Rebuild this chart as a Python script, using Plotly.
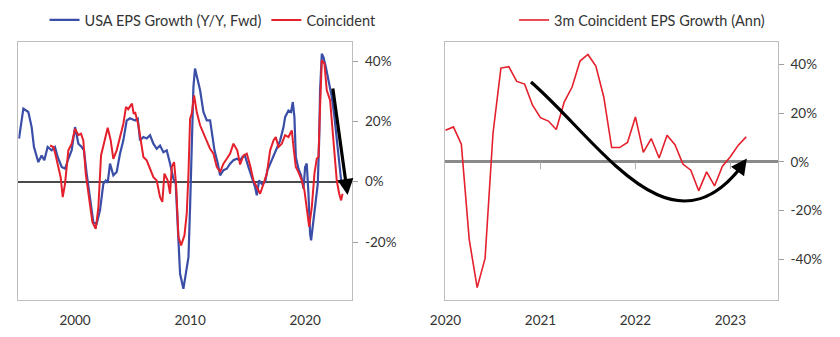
import plotly.graph_objects as go

# ---- Left panel: USA EPS growth (Y/Y, forward) vs coincident, decimal years ----
fwd_years = [
    1995.13, 1995.51, 1995.94, 1996.23, 1996.43, 1996.81, 1997.10, 1997.33,
    1997.62, 1997.97, 1998.26, 1998.49, 1998.84, 1999.13, 1999.42, 1999.71,
    2000.00, 2000.29, 2000.58, 2000.78, 2001.01, 2001.30, 2001.59, 2001.88,
    2002.17, 2002.46, 2002.67, 2002.84, 2003.04, 2003.33, 2003.62, 2003.91,
    2004.20, 2004.49, 2004.78, 2005.07, 2005.22, 2005.45, 2005.65, 2005.94,
    2006.23, 2006.52, 2006.81, 2007.10, 2007.39, 2007.68, 2007.97, 2008.26,
    2008.55, 2008.75, 2008.93, 2009.13, 2009.42, 2009.65, 2009.86, 2010.00,
    2010.14, 2010.29, 2010.43, 2010.67, 2010.87, 2011.16, 2011.45, 2011.74,
    2011.94, 2012.12, 2012.41, 2012.61, 2012.90, 2013.19, 2013.48, 2013.77,
    2014.06, 2014.35, 2014.55, 2014.78, 2015.07, 2015.36, 2015.65, 2015.80,
    2016.00, 2016.23, 2016.52, 2016.72, 2016.96, 2017.25, 2017.54, 2017.83,
    2018.12, 2018.26, 2018.55, 2018.78, 2018.93, 2019.07, 2019.19, 2019.42,
    2019.65, 2019.86, 2020.00, 2020.14, 2020.29, 2020.43, 2020.52, 2020.67,
    2020.87, 2021.10, 2021.22, 2021.30, 2021.45, 2021.59, 2021.80, 2022.03,
    2022.32, 2022.55, 2022.75, 2022.96, 2023.13,
]
fwd_values = [
    14.3, 24.2, 23.1, 18.1, 11.5, 6.5, 8.7, 7.1,
    11.5, 10.4, 11.5, 8.2, 4.9, 4.3, 7.6, 10.4,
    18.1, 12.6, 11.5, 10.4, 2.7, -6.2, -13.4, -13.9,
    -9.5, -0.7, 0.4, -0.4, 6.0, 2.1, 3.2, 9.3,
    13.7, 20.3, 21.0, 20.5, 20.3, 20.9, 13.7, 14.8,
    14.3, 15.4, 12.6, 10.9, 12.0, 9.8, 10.4, 6.0,
    1.0, -0.7, -15.0, -30.5, -35.5, -29.4, -25.0, -8.4,
    13.7, 31.4, 37.5, 33.6, 30.3, 23.1, 20.3, 20.3,
    14.8, 10.4, 6.0, 2.1, 3.8, 4.3, 6.0, 7.1,
    7.6, 7.1, 8.2, 8.5, 4.9, 1.5, -1.8, -4.5,
    0.4, -0.7, -0.1, 3.8, 6.0, 8.7, 11.5, 13.7,
    18.1, 21.4, 23.6, 23.1, 26.4, 21.4, 8.2, 4.3,
    2.1, -2.3, 4.9, 6.0, -4.0, -17.2, -19.4, -15.0,
    -8.4, -0.7, 13.7, 30.3, 42.4, 41.3, 38.0, 33.6,
    28.1, 21.4, 13.7, 6.0, 0.4,
]

coin_years = [
    1997.83, 1998.12, 1998.32, 1998.55, 1998.75, 1998.93, 1999.13, 1999.42,
    1999.71, 2000.00, 2000.29, 2000.52, 2000.72, 2000.93, 2001.22, 2001.51,
    2001.80, 2002.03, 2002.26, 2002.55, 2002.84, 2003.10, 2003.33, 2003.62,
    2003.91, 2004.20, 2004.43, 2004.62, 2004.84, 2004.95, 2005.10, 2005.22,
    2005.51, 2005.74, 2005.94, 2006.23, 2006.52, 2006.81, 2007.10, 2007.39,
    2007.59, 2007.77, 2008.06, 2008.26, 2008.41, 2008.61, 2008.78, 2008.99,
    2009.22, 2009.51, 2009.71, 2009.86, 2010.00, 2010.14, 2010.35, 2010.58,
    2010.87, 2011.16, 2011.45, 2011.74, 2012.03, 2012.32, 2012.61, 2012.90,
    2013.19, 2013.48, 2013.77, 2014.10, 2014.35, 2014.64, 2014.93, 2015.22,
    2015.51, 2015.80, 2016.09, 2016.38, 2016.67, 2016.96, 2017.25, 2017.45,
    2017.68, 2017.97, 2018.26, 2018.55, 2018.84, 2018.99, 2019.19, 2019.42,
    2019.71, 2019.94, 2020.14, 2020.35, 2020.58, 2020.81, 2021.01, 2021.16,
    2021.30, 2021.45, 2021.68, 2021.88, 2022.17, 2022.38, 2022.61, 2022.75,
    2022.96, 2023.13, 2023.25,
]
coin_values = [
    12.0, 11.5, 8.7, 4.9, 1.5, -5.1, -0.7, 10.4,
    12.6, 17.6, 15.4, 15.9, 13.7, 2.7, -5.1, -13.4,
    -15.6, -8.4, 8.7, 13.7, 17.9, 13.7, 7.6, 10.4,
    14.8, 19.2, 24.8, 24.0, 25.3, 25.9, 22.5, 23.1,
    18.7, 12.6, 8.2, 7.1, 4.3, 1.5, 0.4, -5.1,
    -6.7, 2.7, 0.4, -4.0, 4.9, 6.5, -0.7, -18.3,
    -21.1, -17.8, -10.6, 2.7, 20.9, 22.5, 28.6, 23.1,
    18.7, 15.9, 13.7, 10.9, 9.3, 4.9, 3.2, 6.0,
    7.6, 9.3, 12.6, 10.4, 5.7, 8.7, 9.3, 5.4,
    0.4, -1.8, -4.0, -0.7, 2.7, 10.4, 13.7, 14.8,
    11.5, 12.6, 15.4, 14.8, 17.0, 11.5, 4.9, 3.2,
    0.4, -2.9, -8.4, -15.0, -8.4, 2.7, 7.6, 8.2,
    24.8, 40.2, 39.1, 30.3, 27.0, 18.1, 8.2, 0.4,
    -4.0, -6.2, -4.0,
]

# ---- Right panel: 3m coincident EPS growth (annualised), monthly from Jan 2020 ----
month_index = list(range(39))
growth_3m = [
    13.0, 14.4, 7.3, -32.0, -51.7, -39.7, 11.7, 38.6, 39.2, 33.1, 32.0, 23.3,
    18.2, 16.8, 13.3, 24.6, 30.8, 41.5, 44.2, 39.4, 26.7, 5.9, 5.9, 8.0,
    18.5, 3.9, 9.6, 1.6, 11.0, 7.1, -0.9, -3.4, -11.9, -4.1, -9.9, -1.8,
    2.1, 6.9, 10.3,
]
month_x = [2020 + i / 12 for i in month_index]

left_year_ticks = [2000, 2010, 2020]
right_year_ticks = [2020, 2021, 2022, 2023]
left_pct_ticks = [-20, 0, 20, 40]
right_pct_ticks = [-40, -20, 0, 20, 40]

BLUE = "#3a4ea8"
RED = "#e4202c"
TEXT = "#333333"
FRAME = "#bdbdbd"
FONT = "Lato"
FS = 13.5
LEG_FS = 14.5

fig = go.Figure()
fig.add_trace(go.Scatter(x=fwd_years, y=fwd_values, mode="lines",
                         name="USA EPS Growth (Y/Y, Fwd)",
                         line=dict(color=BLUE, width=2.2),
                         xaxis="x", yaxis="y", legend="legend"))
fig.add_trace(go.Scatter(x=coin_years, y=coin_values, mode="lines",
                         name="Coincident",
                         line=dict(color=RED, width=2),
                         xaxis="x", yaxis="y", legend="legend"))
fig.add_trace(go.Scatter(x=month_x, y=growth_3m, mode="lines",
                         name="3m Coincident EPS Growth (Ann)",
                         line=dict(color=RED, width=1.6),
                         xaxis="x2", yaxis="y2", legend="legend2"))

tick_font = dict(family=FONT, size=FS, color=TEXT)
common_x = dict(showgrid=False, zeroline=False, ticks="", ticklabelstandoff=8,
                showline=True, linecolor=FRAME, linewidth=1, mirror=True,
                tickfont=tick_font, automargin=False)
common_y = dict(side="right", showgrid=False, zeroline=True,
                ticks="outside", ticklen=5, tickcolor="#a0a0a0", ticklabelstandoff=4,
                showline=True, linecolor=FRAME, linewidth=1, mirror=True,
                tickfont=tick_font, automargin=False)

fig.update_layout(
    width=840, height=337,
    margin=dict(l=0, r=0, t=0, b=0, autoexpand=False),
    paper_bgcolor="white", plot_bgcolor="white",
    font=dict(family=FONT, size=FS, color=TEXT),
    xaxis=dict(domain=[0.0218, 0.4194], range=[1995.07, 2024.1], anchor="y",
               tickvals=left_year_ticks, ticktext=[str(v) for v in left_year_ticks],
               **common_x),
    yaxis=dict(domain=[0.1098, 0.8745], range=[-39.2, 46.2], anchor="x",
               tickvals=left_pct_ticks, ticktext=[f"{v}%" for v in left_pct_ticks],
               zerolinecolor="#4a4a4a", zerolinewidth=2, **common_y),
    xaxis2=dict(domain=[0.5298, 0.926], range=[2019.995, 2023.5], anchor="y2",
                tickvals=right_year_ticks, ticktext=[str(v) for v in right_year_ticks],
                **common_x),
    yaxis2=dict(domain=[0.1098, 0.8745], range=[-56.8, 49.2], anchor="x2",
                tickvals=right_pct_ticks, ticktext=[f"{v}%" for v in right_pct_ticks],
                zerolinecolor="#8a8a8a", zerolinewidth=3, **common_y),
    legend=dict(orientation="h", x=0.053, y=0.988, xanchor="left", yanchor="top",
                font=dict(family=FONT, size=LEG_FS, color=TEXT),
                bgcolor="rgba(0,0,0,0)", itemwidth=30),
    legend2=dict(orientation="h", x=0.612, y=0.988, xanchor="left", yanchor="top",
                 font=dict(family=FONT, size=LEG_FS, color=TEXT),
                 bgcolor="rgba(0,0,0,0)", itemwidth=30),
)

# small x ticks sitting on the zero line of the right panel
for yr in right_year_ticks[1:]:
    fig.add_shape(type="line", xref="x2", yref="y2", x0=yr, x1=yr, y0=0, y1=-3,
                  line=dict(color="#b0b0b0", width=1))

# left panel: straight down arrow into the latest readings
fig.add_annotation(xref="x domain", yref="y domain", x=0.986, y=0.4075,
                   ax=-15, ay=-108, showarrow=True, arrowhead=2, arrowsize=1,
                   arrowwidth=3.2, arrowcolor="black", text="")

# right panel: curved swoosh down then back up
fig.add_shape(type="path", xref="x2 domain", yref="y2 domain",
              path="M 0.2583 0.8459 C 0.4655 0.6131, 0.6757 0.1552, 0.8919 0.5200",
              line=dict(color="black", width=3.2))
fig.add_annotation(xref="x2 domain", yref="y2 domain", x=0.9069, y=0.5491,
                   ax=-10, ay=14, showarrow=True, arrowhead=2, arrowsize=1,
                   arrowwidth=3.2, arrowcolor="black", text="")

fig.write_html("out.html")
